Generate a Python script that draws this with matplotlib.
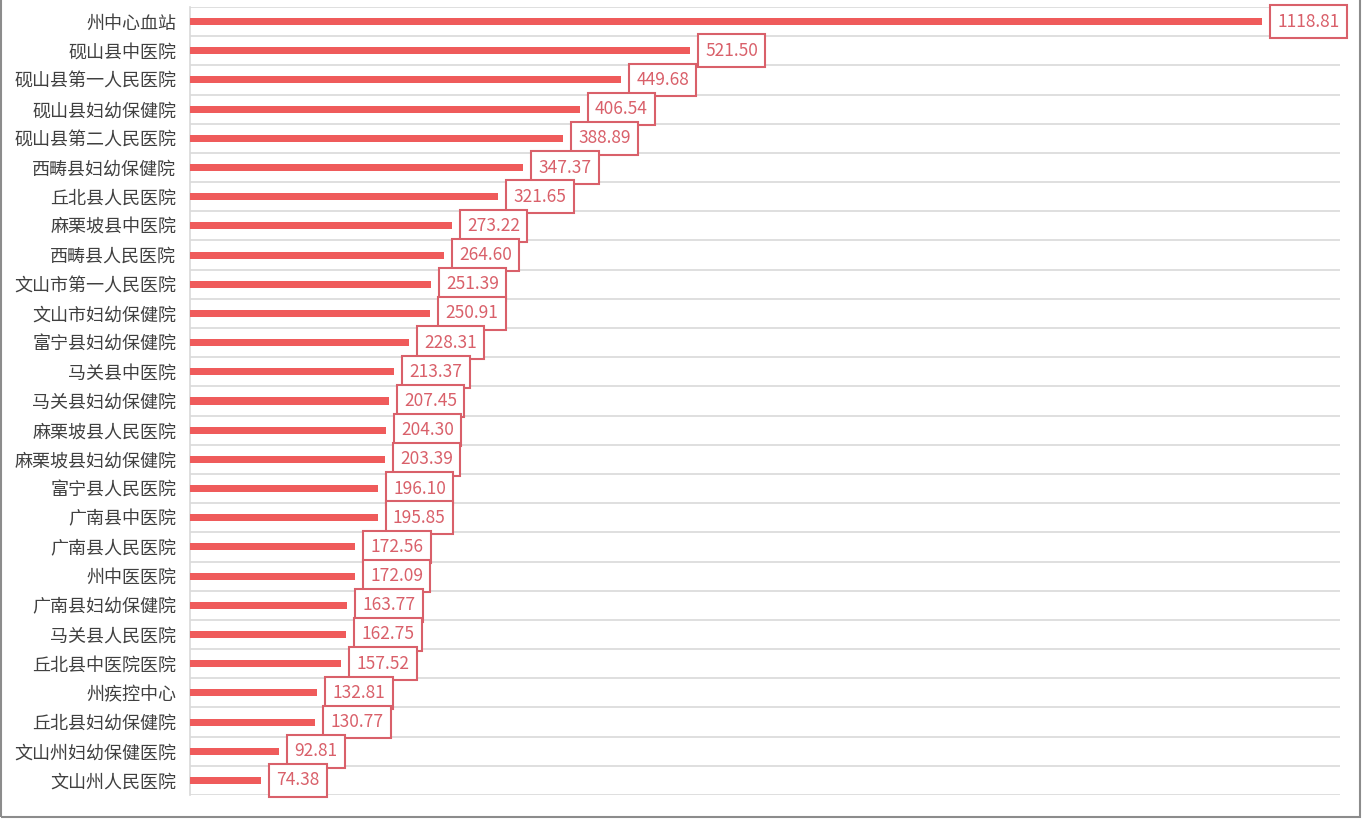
import matplotlib.pyplot as plt
from matplotlib.patches import Rectangle
import numpy as np

plt.rcParams['font.family'] = ['Noto Sans CJK SC', 'DejaVu Sans']

# 医院名称与数值（从上到下）
names = ["州中心血站", "砚山县中医院", "砚山县第一人民医院", "砚山县妇幼保健院", "砚山县第二人民医院",
         "西畴县妇幼保健院", "丘北县人民医院", "麻栗坡县中医院", "西畴县人民医院", "文山市第一人民医院",
         "文山市妇幼保健院", "富宁县妇幼保健院", "马关县中医院", "马关县妇幼保健院", "麻栗坡县人民医院",
         "麻栗坡县妇幼保健院", "富宁县人民医院", "广南县中医院", "广南县人民医院", "州中医医院",
         "广南县妇幼保健院", "马关县人民医院", "丘北县中医院医院", "州疾控中心", "丘北县妇幼保健院",
         "文山州妇幼保健医院", "文山州人民医院"]
values = [1118.81, 521.50, 449.68, 406.54, 388.89, 347.37, 321.65, 273.22, 264.60, 251.39,
          250.91, 228.31, 213.37, 207.45, 204.30, 203.39, 196.10, 195.85, 172.56, 172.09,
          163.77, 162.75, 157.52, 132.81, 130.77, 92.81, 74.38]

bar_color = "#ef5b5b"
label_color = "#d9606a"

fig = plt.figure(figsize=(13.62, 8.31), dpi=100)
ax = fig.add_axes([190 / 1362, 1 - 795 / 831, 1150 / 1362, 788 / 831])

y = np.arange(len(names))
ax.barh(y, values, height=0.24, color=bar_color, zorder=3)

for yi, v in zip(y, values):
    ax.annotate(f"{v:.2f}", xy=(v, yi), xytext=(11, 0), textcoords="offset points",
                ha="left", va="center", fontsize=12.5, color=label_color, fontweight="light",
                bbox=dict(boxstyle="square,pad=0.42", fc="white", ec=label_color, lw=1.5),
                zorder=4)

ax.set_xlim(0, 1200)
ax.set_ylim(len(names) - 0.5, -0.5)
ax.set_yticks(y)
ax.set_yticklabels(names, fontsize=13, color="#404040", fontweight="light")
ax.set_xticks([])
ax.tick_params(axis="y", length=0, pad=10)

# 类别之间的分隔线
for b in np.arange(-0.5, len(names), 1.0):
    ax.axhline(b, color="#d9d9d9", lw=1.2, zorder=1)

for s in ["top", "right", "bottom"]:
    ax.spines[s].set_visible(False)
ax.spines["left"].set_color("#d9d9d9")
ax.spines["left"].set_linewidth(1.2)

# 外框
fig.patches.append(Rectangle((1 / 1362, 1 - 817 / 831), 1359 / 1362, 817 / 831 + 0.01,
                             transform=fig.transFigure, fill=False, ec="#8c8c8c", lw=1.5))

plt.savefig("out.png", dpi=100)
